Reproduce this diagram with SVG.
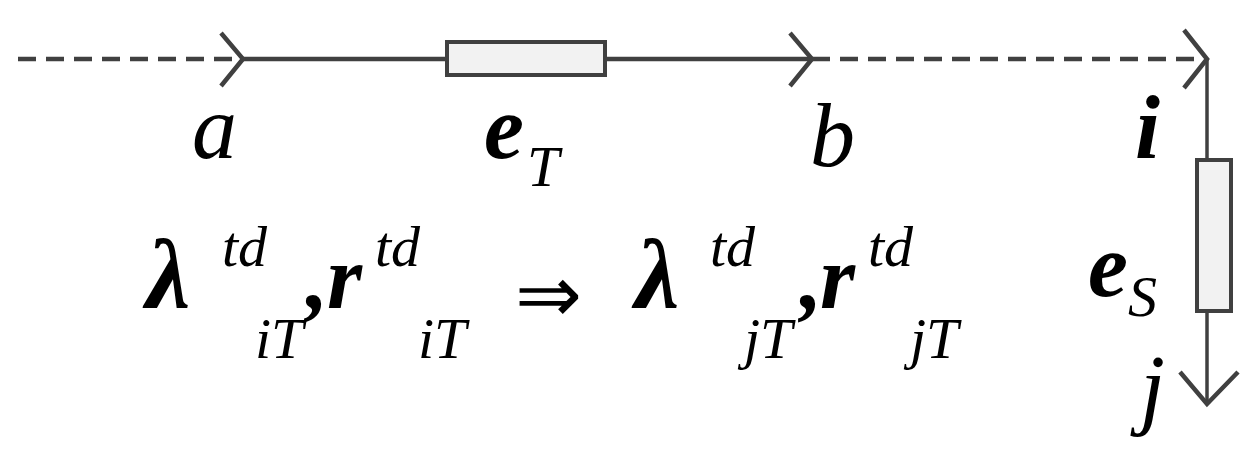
<svg xmlns="http://www.w3.org/2000/svg" width="1259" height="449" viewBox="0 0 1259 449">
<style>
.l{stroke:#404040;stroke-width:4.5;fill:none}
.d{stroke-dasharray:18,10}
.r{fill:#f2f2f2;stroke:#404040;stroke-width:4}
text{font-family:"Liberation Serif","Times New Roman",serif;font-style:italic;fill:#000}
.b{font-size:90px;font-weight:bold}
.m{font-size:90px}
.s{font-size:58px}
</style>
<g id="connectors">
<line class="l d" x1="18" y1="59" x2="243" y2="59"/>
<polyline class="l" points="221,33 243,59 221,86"/>
<line class="l" x1="243" y1="59" x2="812" y2="59"/>
<polyline class="l" points="790,33 812,59 790,86"/>
<line class="l d" x1="812" y1="59" x2="1207" y2="59"/>
<polyline class="l" points="1184,30 1207,59 1184,88"/>
<line class="l" x1="1207" y1="59" x2="1207" y2="404" style="stroke-width:3.5"/>
<polyline class="l" points="1180,372 1207,404 1238,372"/>
</g>
<g id="eT"><rect class="r" x="447" y="42" width="158" height="33"/></g>
<g id="eS"><rect class="r" x="1197" y="160" width="34" height="151"/></g>
<g id="labels">
<text class="m" x="192" y="158">a</text>
<text class="b" x="484" y="158">e</text><text class="s" x="527" y="186">T</text>
<text class="m" x="810" y="166">b</text>
<text class="b" x="1135" y="158">i</text>
<text class="b" x="1088" y="296">e</text><text class="s" x="1128" y="316">S</text>
<text class="m" x="1140" y="418">j</text>
<text class="b" x="146" y="308" style="font-size:100px">λ</text><text class="s" x="222" y="266">td</text><text class="s" x="255" y="358">iT</text>
<text class="b" x="306" y="308">,</text>
<text class="b" x="327" y="308">r</text><text class="s" x="375" y="266">td</text><text class="s" x="418" y="358">iT</text>
<text x="515" y="322" style="font-style:normal;font-size:80px">⇒</text>
<text class="b" x="635" y="308" style="font-size:100px">λ</text><text class="s" x="710" y="266">td</text><text class="s" x="744" y="358">jT</text>
<text class="b" x="800" y="308">,</text>
<text class="b" x="820" y="308">r</text><text class="s" x="868" y="266">td</text><text class="s" x="910" y="358">jT</text>
</g>
</svg>
